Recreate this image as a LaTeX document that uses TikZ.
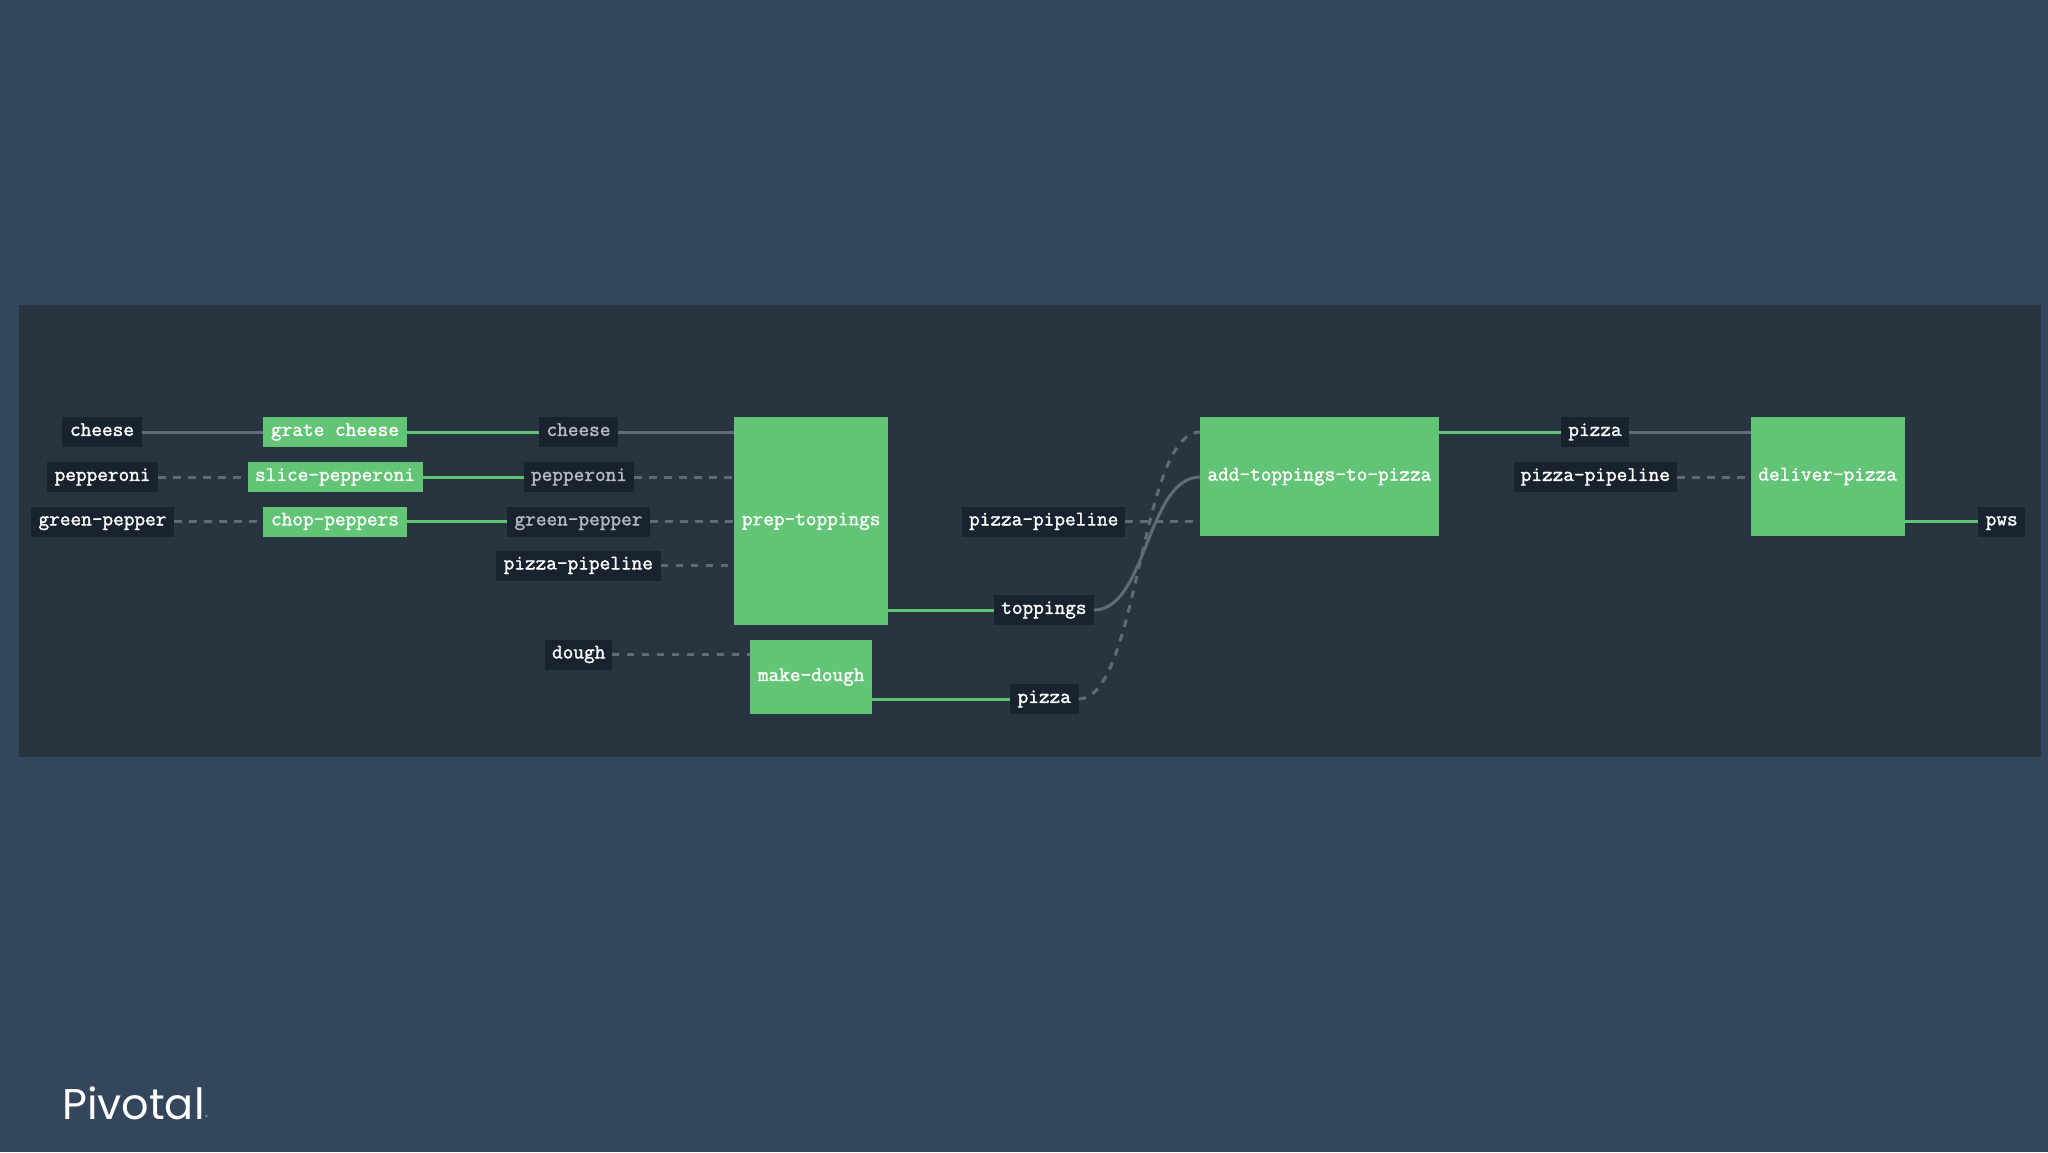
\documentclass[tikz,border=0pt]{standalone}
\usepackage{fontspec}
\newfontfamily\logofont{Poppins}
\newfontfamily\labelfont[FakeBold=1.6]{Latin Modern Mono}
\definecolor{pagebg}{HTML}{34465C}
\definecolor{panelbg}{HTML}{28343F}
\definecolor{labelbg}{HTML}{192330}
\definecolor{stepgreen}{HTML}{62C475}
\definecolor{linegray}{HTML}{5F6B77}
\definecolor{dimtext}{HTML}{B4BBC3}
\tikzset{
  boxbase/.style={inner sep=0pt,outer sep=0pt,align=center,text height=12.4pt,text depth=4.6pt,font=\labelfont\fontsize{20.7}{22}\selectfont},
  res/.style={boxbase,fill=labelbg,text=white,minimum height=30pt},
  dimres/.style={res,text=dimtext},
  task/.style={boxbase,fill=stepgreen,text=white},
  solidgray/.style={draw=linegray,line width=3pt},
  dashgray/.style={draw=linegray,line width=3pt,dash pattern=on 7.5pt off 7.5pt},
  greenline/.style={draw=stepgreen,line width=3pt}
}
\begin{document}
\begin{tikzpicture}[x=1pt,y=-1pt]
\useasboundingbox (0,0) rectangle (2048,1152);
\fill[pagebg] (0,0) rectangle (2048,1152);
\fill[panelbg] (19,305) rectangle (2041,757);

\node[res,minimum width=79.5pt] (cheeseA) at (102,432) {cheese};
\node[res,minimum width=111pt] (pepA) at (102.6,477) {pepperoni};
\node[res,minimum width=143pt] (greenA) at (102.5,521.5) {green-pepper};
\node[task,minimum width=143.3pt,minimum height=30pt] (grate) at (335,432) {grate cheese};
\node[task,minimum width=175pt,minimum height=30pt] (slice) at (335,477) {slice-pepperoni};
\node[task,minimum width=143.3pt,minimum height=30pt] (chop) at (335,521.5) {chop-peppers};
\node[dimres,minimum width=79pt] (cheeseB) at (578.5,432) {cheese};
\node[dimres,minimum width=110pt] (pepB) at (579,477) {pepperoni};
\node[dimres,minimum width=143pt] (greenB) at (578.5,521.5) {green-pepper};
\node[res,minimum width=165pt] (pipeA) at (578.3,565.5) {pizza-pipeline};
\node[res,minimum width=66.5pt] (dough) at (578.7,654.5) {dough};
\node[task,minimum width=153.6pt,minimum height=208pt] (prep) at (811.2,521.3) {prep-toppings};
\node[task,minimum width=121.6pt,minimum height=74.3pt] (make) at (811.2,677.15) {make-dough};
\node[res,minimum width=163.4pt] (pipeB) at (1043.7,521.5) {pizza-pipeline};
\node[res,minimum width=99.8pt] (toppings) at (1043.9,610) {toppings};
\node[res,minimum width=68.6pt] (pizzaA) at (1044.3,699) {pizza};
\node[task,minimum width=238.8pt,minimum height=118.7pt] (add) at (1319.4,476.65) {add-toppings-to-pizza};
\node[res,minimum width=68pt] (pizzaB) at (1595,432) {pizza};
\node[res,minimum width=163.4pt] (pipeC) at (1595.3,477) {pizza-pipeline};
\node[task,minimum width=153.7pt,minimum height=118.7pt] (deliver) at (1827.65,476.65) {deliver-pizza};
\node[res,minimum width=46.7pt] (pws) at (2001.7,521.5) {pws};

\draw[solidgray] (cheeseA.east) -- (grate.west);
\draw[dashgray] (pepA.east) -- (slice.west);
\draw[dashgray] (greenA.east) -- (chop.west);
\draw[greenline] (grate.east) -- (cheeseB.west);
\draw[greenline] (slice.east) -- (pepB.west);
\draw[greenline] (chop.east) -- (greenB.west);
\draw[solidgray] (cheeseB.east) -- (cheeseB.east -| prep.west);
\draw[dashgray] (pepB.east) -- (pepB.east -| prep.west);
\draw[dashgray] (greenB.east) -- (greenB.east -| prep.west);
\draw[dashgray] (pipeA.east) -- (pipeA.east -| prep.west);
\draw[dashgray] (dough.east) -- (dough.east -| make.west);
\draw[greenline] (toppings.west -| prep.east) -- (toppings.west);
\draw[greenline] (pizzaA.west -| make.east) -- (pizzaA.west);
\draw[dashgray] (pipeB.east) -- (pipeB.east -| add.west);
\draw[dashgray] (pizzaA.east) .. controls ++(60,0) and (1140,432) .. (pizzaB.west -| add.west);
\draw[solidgray] (toppings.east) .. controls ++(53,0) and (1147,477) .. (add.west |- pipeC.west);
\draw[greenline] (pizzaB.west -| add.east) -- (pizzaB.west);
\draw[solidgray] (pizzaB.east) -- (pizzaB.east -| deliver.west);
\draw[dashgray] (pipeC.east) -- (pipeC.east -| deliver.west);
\draw[greenline] (pws.west -| deliver.east) -- (pws.west);

\node[anchor=base west,inner sep=0pt,text=white,font=\logofont\fontsize{43}{43}\selectfont] (logo) at (62,1119) {Pivotal};
\node[anchor=base west,inner sep=0pt,text=white!70!pagebg,font=\logofont\fontsize{6}{6}\selectfont] (reg) at (logo.base east) {®};
\end{tikzpicture}
\end{document}
